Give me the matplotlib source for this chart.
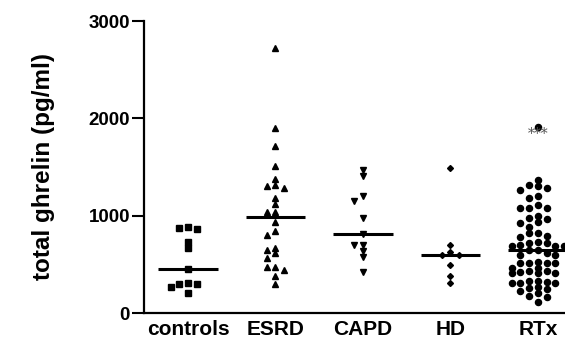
import numpy as np
import matplotlib
matplotlib.use("Agg")
import matplotlib.pyplot as plt

plt.rcParams['font.family'] = ['Liberation Sans', 'DejaVu Sans']

# group names and ghrelin values (pg/ml)
groups = ["controls", "ESRD", "CAPD", "HD", "RTx"]
controls = [882, 862, 872, 729, 667, 450, 313, 297, 303, 272, 205]
esrd = [2718, 1904, 1713, 1508, 1374, 1313, 1303, 1282, 1179, 1118, 1036, 1036,
        933, 841, 800, 667, 646, 615, 564, 472, 472, 441, 379, 297]
capd = [1467, 1405, 1200, 1149, 974, 810, 697, 697, 636, 574, 420]
hd = [1487, 697, 626, 595, 595, 492, 380, 308]
rtx = [1908, 1364, 1313, 1303, 1282, 1262, 1200, 1179, 1108, 1077, 1077, 1077,
       995, 974, 964, 933, 923, 882, 821, 821, 790, 779, 728, 718, 718, 697,
       687, 687, 687, 646, 646, 615, 595, 595, 523, 513, 513, 513, 513, 462,
       462, 431, 431, 420, 410, 410, 410, 328, 328, 318, 308, 308, 308, 267,
       256, 246, 226, 205, 174, 164, 113]
data = [controls, esrd, capd, hd, rtx]
markers = ["s", "^", "v", "D", "o"]
msizes = [4.6, 4.6, 4.6, 3.0, 4.4]

XPX = 87.5     # pixels per category unit
YPX = 0.0975   # pixels per pg/ml


def swarm(vals, center, d_px=5.0, step_px=8.7):
    vals = np.asarray(vals, dtype=float)
    xs = np.zeros(len(vals))
    placed = []
    cands = [0] + [s * j for j in range(1, 12) for s in (-1, 1)]
    for i in np.argsort(-vals):
        y = vals[i] * YPX
        for c in cands:
            x = c * step_px
            if all((x - px) ** 2 + (y - py) ** 2 >= d_px ** 2 for px, py in placed):
                break
        placed.append((x, y))
        xs[i] = center + x / XPX
    return xs


fig = plt.figure(figsize=(5.65, 3.43), dpi=100)
ax = fig.add_axes([144 / 565, 30 / 343, 421 / 565, 292 / 343])

for i, vals in enumerate(data):
    xs = swarm(vals, i)
    ax.plot(xs, vals, linestyle="none", marker=markers[i], ms=msizes[i],
            color="black", mec="black")
    med = np.median(vals)
    ax.plot([i - 0.34, i + 0.34], [med, med], color="black", lw=2.2,
            solid_capstyle="butt")

ax.text(4, 1840, "***", ha="center", va="center", fontsize=10,
        family="DejaVu Serif", color="#555555")

ax.set_xlim(-0.503, 4.31)
ax.set_ylim(0, 3000)
ax.set_yticks([0, 1000, 2000, 3000])
ax.set_xticks(range(len(groups)))
ax.set_xticklabels(groups, fontsize=15, fontweight="bold")
ax.tick_params(axis="x", length=0, pad=5)
ax.tick_params(axis="y", length=9, width=1.5, pad=1, labelsize=13.5)
for lab in ax.get_yticklabels():
    lab.set_fontweight("bold")
ax.set_ylabel("total ghrelin (pg/ml)", fontsize=17.5, fontweight="bold")
ax.yaxis.set_label_coords(-0.211, 0.5)

for s in ["top", "right"]:
    ax.spines[s].set_visible(False)
for s in ["left", "bottom"]:
    ax.spines[s].set_linewidth(1.6)

fig.savefig("out.png", dpi=100)
